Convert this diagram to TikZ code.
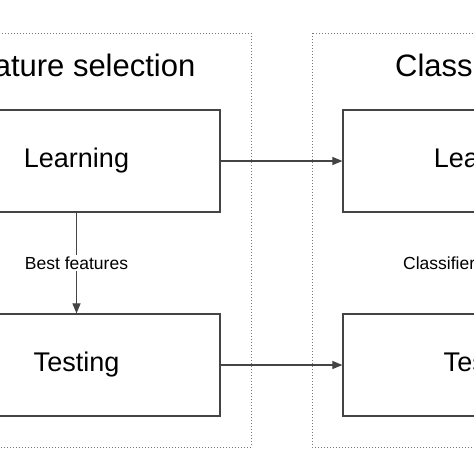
\documentclass[tikz,border=0pt]{standalone}
\usepackage{fontspec}
\setmainfont{Liberation Sans}
\usetikzlibrary{arrows.meta}
\definecolor{boxline}{HTML}{444444}
\definecolor{frameline}{HTML}{777777}
\tikzset{
  stagebox/.style={draw=boxline, line width=1.2pt, minimum width=287pt, minimum height=102pt, inner sep=0pt, font=\fontsize{27}{32}\selectfont},
  frame/.style={draw=frameline, line width=0.9pt, dash pattern=on 0.9pt off 2.1pt},
  titletext/.style={inner sep=0pt, font=\fontsize{31}{36}\selectfont},
  conn/.style={draw=boxline, line width=1.1pt, -{Triangle[length=10pt,width=8pt]}},
  labeltext/.style={fill=white, inner sep=2pt, font=\fontsize{17.5}{20}\selectfont}
}
\begin{document}
\begin{tikzpicture}[x=1pt,y=-1pt]
\useasboundingbox (0,0) rectangle (474,474);
\clip (0,0) rectangle (474,474);
\fill[white] (0,0) rectangle (474,474);
% frames
\draw[frame] (-98,33) rectangle (251,447);
\draw[frame] (312,33) rectangle (661,447);
% titles
\node[titletext] (t1) at (76.5,65) {Feature selection};
\node[titletext] (t2) at (486.5,65) {Classification};
% boxes
\node[stagebox] (l1) at (76.5,161) {Learning};
\node[stagebox] (s1) at (76.5,365) {Testing};
\node[stagebox] (l2) at (486.5,161) {Learning};
\node[stagebox] (s2) at (486.5,365) {Testing};
% connectors
\draw[conn] (l1.east) -- (l2.west);
\draw[conn] (s1.east) -- (s2.west);
\draw[conn] (l1.south) -- node[labeltext] (bf) {Best features} (s1.north);
\node[labeltext, anchor=west, inner sep=0pt] (cl) at (403,263) {Classifier};
\end{tikzpicture}
\end{document}
